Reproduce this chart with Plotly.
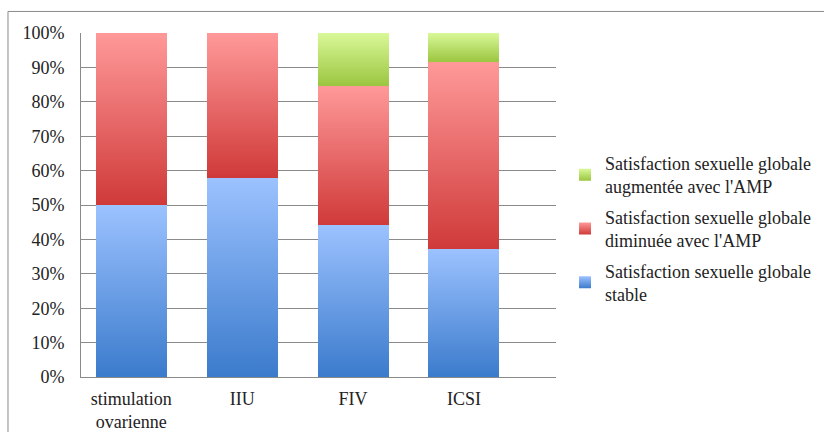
import plotly.graph_objects as go

categories = ["stimulation<br>ovarienne", "IIU", "FIV", "ICSI"]
stable = [0.50, 0.579, 0.442, 0.372]
diminuee = [0.50, 0.421, 0.404, 0.544]
augmentee = [0.0, 0.0, 0.154, 0.084]

names = [
    "Satisfaction sexuelle globale<br>stable",
    "Satisfaction sexuelle globale<br>diminuée avec l'AMP",
    "Satisfaction sexuelle globale<br>augmentée avec l'AMP",
]
# mid tones (used as fallback), gradients are applied in post_script
colors = ["#6a9de6", "#e66a6a", "#bcdc6e"]

font = dict(family="Liberation Serif", size=18, color="#222222")

fig = go.Figure()
for i, (name, vals, col) in enumerate(zip(names, [stable, diminuee, augmentee], colors)):
    fig.add_trace(go.Bar(x=categories, y=vals, name=name, width=0.64,
                         marker=dict(color=col, line=dict(width=0)),
                         legendgroup=name, legendrank=10 - i))

fig.update_layout(
    barmode="stack",
    width=824, height=432,
    margin=dict(l=81, r=268, t=33, b=55, autoexpand=False),
    paper_bgcolor="white", plot_bgcolor="white",
    font=font,
    showlegend=True,
    legend=dict(x=1.019, y=0.675, xanchor="left", yanchor="top",
                traceorder="grouped", tracegroupgap=4,
                font=font, itemwidth=30),
)
fig.update_xaxes(range=[-0.453, 3.83], showgrid=False, showline=True,
                 linecolor="#8a8a8a", linewidth=1, ticks="",
                 ticklabelstandoff=5, tickfont=font)
fig.update_yaxes(range=[0, 1], dtick=0.1, tickformat=".0%", showgrid=True,
                 gridcolor="#8a8a8a", gridwidth=1, showline=True,
                 linecolor="#8a8a8a", linewidth=1, ticks="", zeroline=False,
                 ticklabelstandoff=12, tickfont=font)

# outer chart frame
fig.add_shape(type="rect", xref="paper", yref="paper",
              x0=-0.1537, x1=1.7, y0=-0.4, y1=1.0626,
              line=dict(color="#8a8a8a", width=1), fillcolor="rgba(0,0,0,0)")

post = """
document.body.style.margin = '0';
var gd = document.getElementById('{plot_id}');
var grads = [['#3b7bcc', '#9cc2ff'], ['#cf3a39', '#ff9999'], ['#9bc640', '#d9f898']];
function paint() {
  var svg = gd.querySelector('svg.main-svg');
  if (!svg) return;
  var defs = svg.querySelector('defs');
  grads.forEach(function (g, i) {
    var id = 'bargrad' + i;
    if (document.getElementById(id)) return;
    var ns = 'http://www.w3.org/2000/svg';
    var lg = document.createElementNS(ns, 'linearGradient');
    lg.setAttribute('id', id);
    lg.setAttribute('x1', '0'); lg.setAttribute('y1', '1');
    lg.setAttribute('x2', '0'); lg.setAttribute('y2', '0');
    [[0, g[0]], [1, g[1]]].forEach(function (s) {
      var st = document.createElementNS(ns, 'stop');
      st.setAttribute('offset', s[0]);
      st.setAttribute('stop-color', s[1]);
      lg.appendChild(st);
    });
    defs.appendChild(lg);
  });
  gd.querySelectorAll('.barlayer .trace').forEach(function (t) {
    var idx = t.__data__[0].trace.index;
    t.querySelectorAll('path').forEach(function (p) {
      p.style.fill = 'url(#bargrad' + idx + ')';
    });
  });
  gd.querySelectorAll('.legend .traces').forEach(function (t) {
    var idx = t.__data__[0].trace.index;
    t.querySelectorAll('.legendpoints path').forEach(function (p) {
      p.style.fill = 'url(#bargrad' + idx + ')';
    });
  });
}
paint();
gd.on('plotly_afterplot', paint);
"""

fig.write_html("out.html", post_script=post, config={"displayModeBar": False})
